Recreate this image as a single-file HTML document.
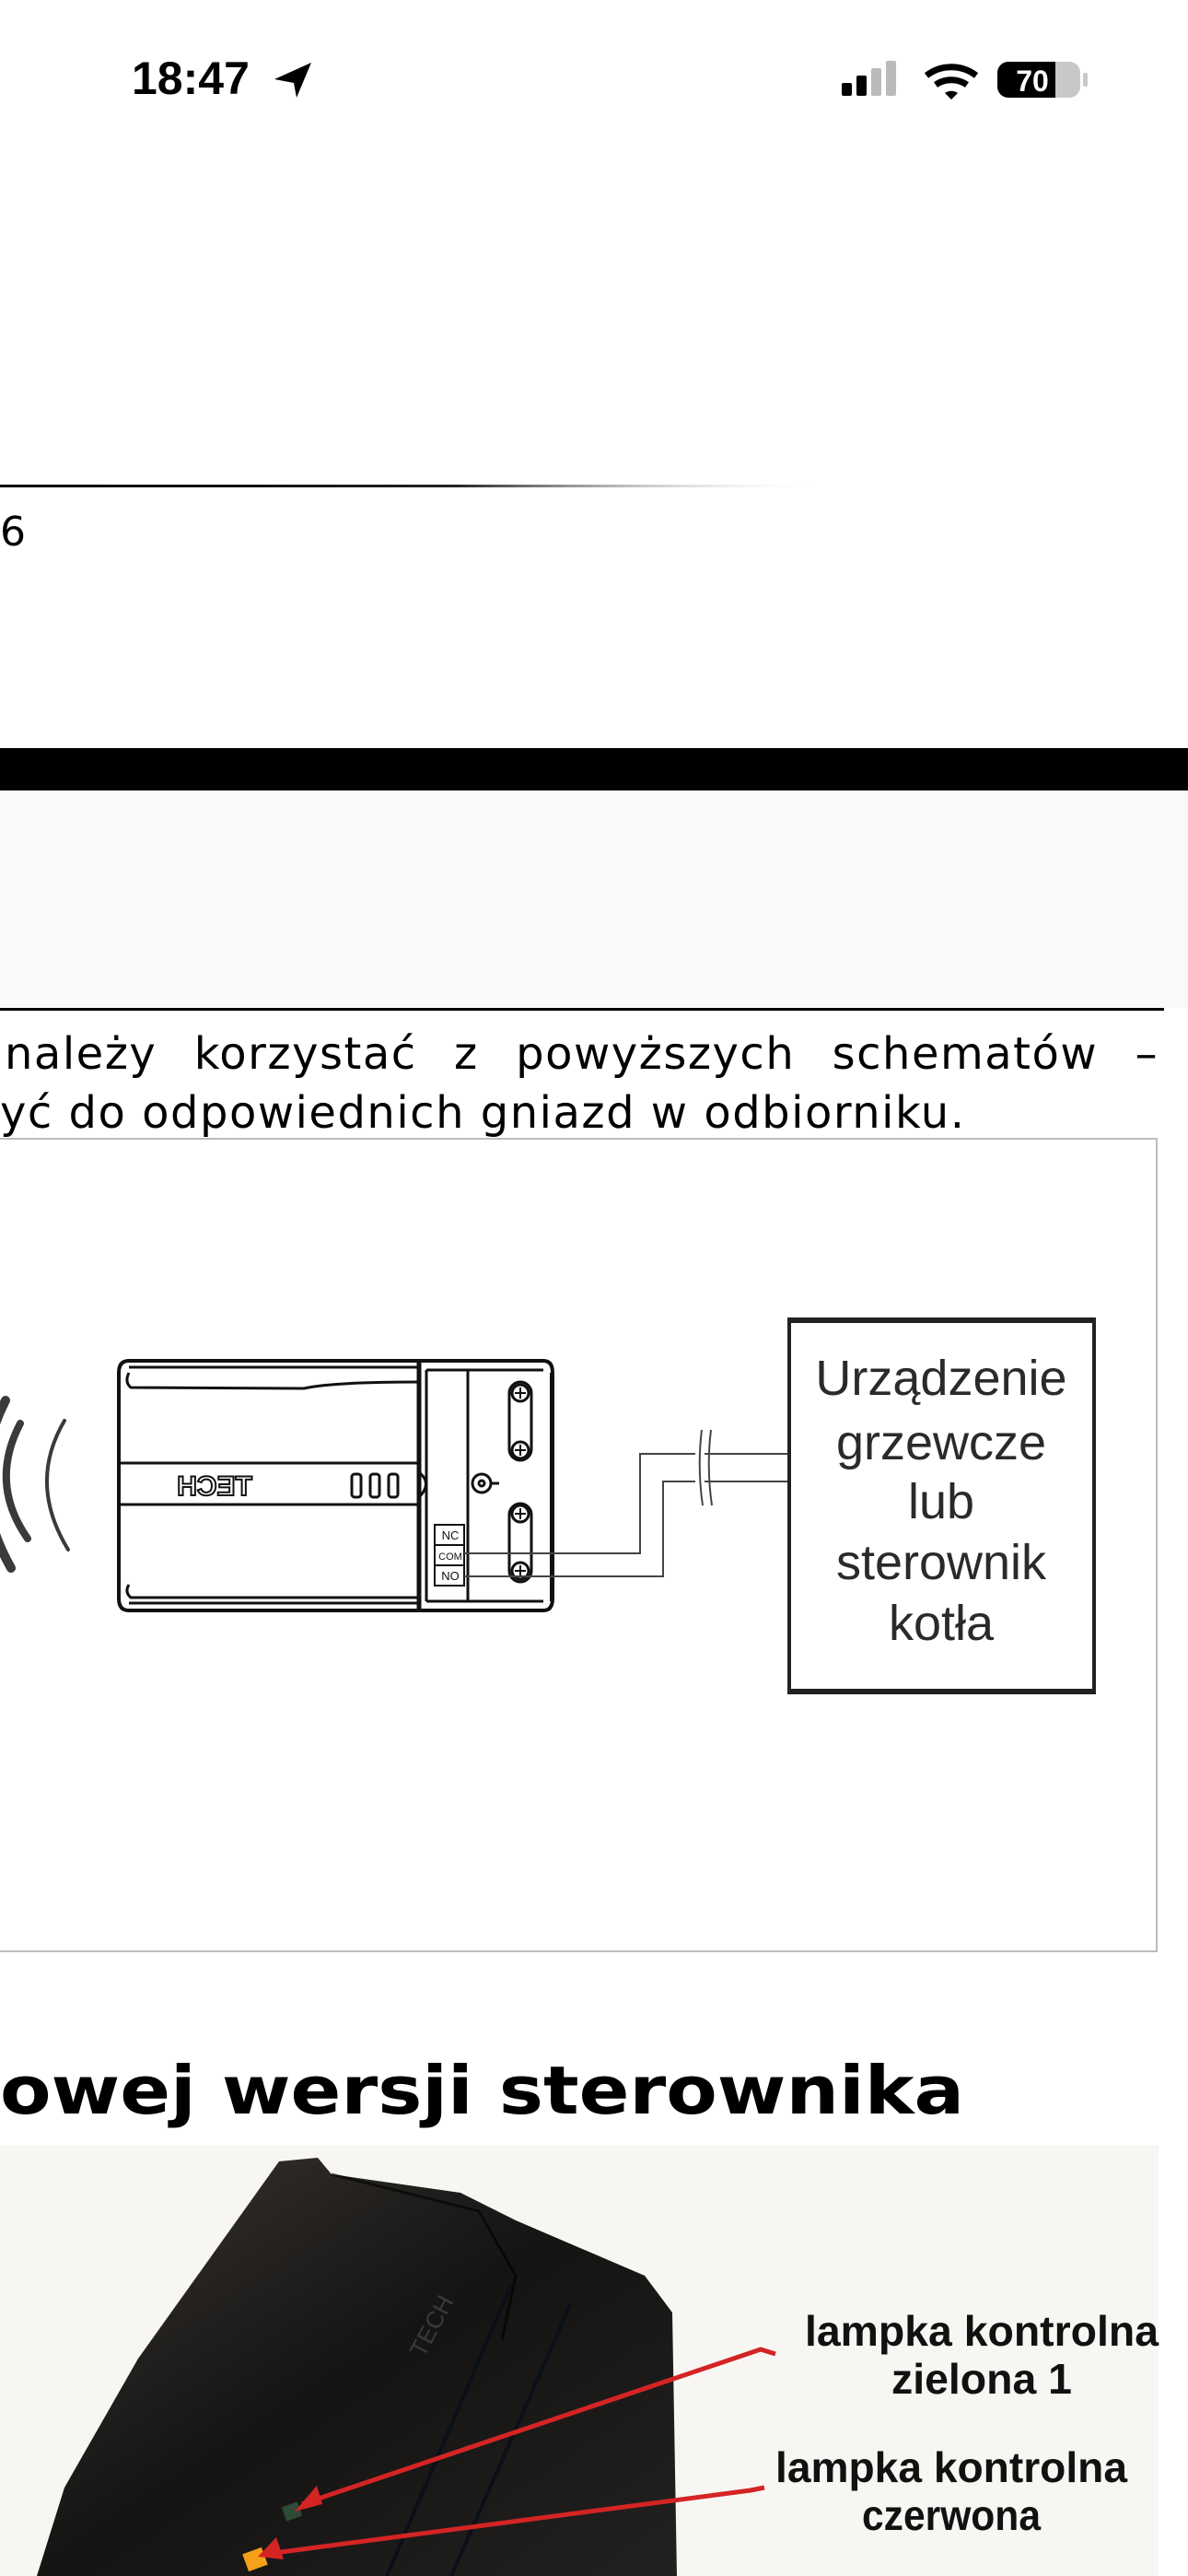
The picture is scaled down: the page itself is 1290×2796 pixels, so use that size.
<!DOCTYPE html>
<html><head><meta charset="utf-8"><style>
html,body{margin:0;padding:0;background:#fff;}
body{width:1290px;height:2796px;overflow:hidden;position:relative;}
svg{position:absolute;left:0;top:0;}
.p{position:absolute;left:5px;width:1253px;font-family:"DejaVu Sans",sans-serif;font-size:48px;letter-spacing:1.5px;line-height:64px;color:#000;text-align:justify;text-align-last:justify;white-space:nowrap;}
</style></head><body>
<svg width="1290" height="2796" viewBox="0 0 1290 2796" xmlns="http://www.w3.org/2000/svg">
<defs>
<linearGradient id="fade" x1="0" x2="1" y1="0" y2="0">
<stop offset="0" stop-color="#000"/><stop offset="0.55" stop-color="#222"/><stop offset="1" stop-color="#fff" stop-opacity="0"/>
</linearGradient>
<linearGradient id="dev" x1="0" x2="1" y1="0" y2="1">
<stop offset="0" stop-color="#3a3632"/><stop offset="0.5" stop-color="#151413"/><stop offset="1" stop-color="#23211f"/>
</linearGradient>
</defs>
<text x="143" y="102" font-family="Liberation Sans, sans-serif" font-size="50" font-weight="bold" fill="#000">18:47</text>
<path d="M298 86 L338 68 L322 106 L319 90 Z" fill="#000"/>
<rect x="914" y="90" width="11" height="14" rx="2" fill="#000"/>
<rect x="930" y="82" width="11" height="22" rx="2" fill="#000"/>
<rect x="946" y="74" width="11" height="30" rx="2" fill="#bbb"/>
<rect x="962" y="66" width="11" height="38" rx="2" fill="#bbb"/>
<path d="M1006 82 A44 44 0 0 1 1060 82" stroke="#000" stroke-width="7" fill="none"/>
<path d="M1016 92 A30 30 0 0 1 1050 92" stroke="#000" stroke-width="7" fill="none"/>
<path d="M1026 101 L1033 108 L1040 101 A12 12 0 0 0 1026 101Z" fill="#000"/>
<rect x="1083" y="67" width="90" height="39" rx="12" fill="#c8c8c8"/>
<path d="M1095 67 H1146 V106 H1095 A12 12 0 0 1 1083 94 V79 A12 12 0 0 1 1095 67Z" fill="#000"/>
<rect x="1176" y="79" width="5" height="15" rx="2" fill="#c8c8c8"/>
<text x="1121" y="99" text-anchor="middle" font-family="Liberation Sans, sans-serif" font-size="32" font-weight="bold" fill="#fff">70</text>

<rect x="0" y="526" width="900" height="3" fill="url(#fade)"/>
<text x="0" y="592" font-family="DejaVu Sans, sans-serif" font-size="44" fill="#000">6</text>

<rect x="0" y="812" width="1290" height="46" fill="#000"/>
<rect x="0" y="858" width="1290" height="236" fill="#f9f9f9"/>
<rect x="0" y="1094" width="1264" height="3" fill="#000"/>

<rect x="-2" y="1236" width="1258" height="882" fill="#fff" stroke="#bdbdbd" stroke-width="2"/>

<g fill="none" stroke="#3a3a3a" stroke-linecap="round">
<path d="M6 1520 Q-40 1610 12 1702" stroke-width="10"/>
<path d="M22 1545 Q-12 1610 30 1670" stroke-width="8"/>
<path d="M70 1542 Q30 1610 74 1682" stroke-width="4"/>
</g>

<g fill="none" stroke="#111" stroke-width="3">
<path d="M140 1477 H590 Q600 1477 600 1490 V1735 Q600 1748 590 1748 H140 Q129 1748 129 1735 V1490 Q129 1477 140 1477Z" stroke-width="4"/>
<path d="M140 1490 Q135 1500 142 1506 L330 1507 Q360 1500 455 1500"/>
<path d="M140 1484 H455"/>
<path d="M140 1740 H455"/>
<path d="M140 1720 Q135 1728 142 1734 H455"/>
<path d="M129 1588 H455 M129 1633 H455"/>
<path d="M455 1477 V1748" stroke-width="5"/>
<path d="M463 1487 V1738"/>
<path d="M508 1487 V1738"/>
<path d="M463 1487 H590 M463 1738 H590"/>
<path d="M598 1490 V1738" stroke-width="2"/>
<rect x="553" y="1500" width="24" height="85" rx="12"/>
<rect x="553" y="1632" width="24" height="85" rx="12"/>
<circle cx="523" cy="1610" r="10"/><circle cx="523" cy="1610" r="3"/>
<path d="M533 1610 H542"/>
<rect x="382" y="1600" width="10" height="25" rx="3"/>
<rect x="402" y="1600" width="10" height="25" rx="3"/>
<rect x="422" y="1600" width="10" height="25" rx="3"/>
<path d="M455 1598 Q470 1610 455 1625"/>
<rect x="472" y="1655" width="32" height="66" stroke-width="2"/>
<path d="M472 1677 H504 M472 1699 H504" stroke-width="2"/>
</g>
<g fill="#fff" stroke="#111" stroke-width="3">
<circle cx="565" cy="1512" r="9"/><circle cx="565" cy="1574" r="9"/>
<circle cx="565" cy="1643" r="9"/><circle cx="565" cy="1705" r="9"/>
</g>
<g stroke="#111" stroke-width="2">
<path d="M559 1512 H571 M565 1506 V1518 M559 1574 H571 M565 1568 V1580 M559 1643 H571 M565 1637 V1649 M559 1705 H571 M565 1699 V1711"/>
</g>
<text x="233" y="1623" text-anchor="middle" font-family="Liberation Sans, sans-serif" font-size="30" font-weight="bold" fill="none" stroke="#111" stroke-width="2" transform="translate(466 0) scale(-1 1)">TECH</text>
<g font-family="Liberation Sans, sans-serif" font-size="13" fill="#111" text-anchor="middle">
<text x="489" y="1671">NC</text><text x="489" y="1693" font-size="11">COM</text><text x="489" y="1715">NO</text>
</g>
<g fill="none" stroke="#444" stroke-width="2">
<path d="M504 1686 H695 V1578 H855"/>
<path d="M504 1711 H720 V1608 H855"/>
</g>
<rect x="755" y="1570" width="10" height="50" fill="#fff"/>
<path d="M762 1552 Q757 1592 763 1634 M772 1552 Q767 1592 773 1634" stroke="#444" stroke-width="2" fill="none"/>

<rect x="857" y="1434" width="331" height="402" fill="#fff" stroke="#222" stroke-width="4"/>
<path d="M855 1433 H1190 M855 1836 H1190" stroke="#222" stroke-width="6"/>
<g font-family="Liberation Sans, sans-serif" font-size="54" fill="#2a2a2a" text-anchor="middle">
<text x="1022" y="1514">Urządzenie</text>
<text x="1022" y="1584">grzewcze</text>
<text x="1022" y="1648">lub</text>
<text x="1022" y="1714">sterownik</text>
<text x="1022" y="1780">kotła</text>
</g>

<text x="0" y="2294" font-family="DejaVu Sans, sans-serif" font-size="72" font-weight="bold" fill="#000" textLength="1047" lengthAdjust="spacingAndGlyphs">owej wersji sterownika</text>

<rect x="0" y="2328" width="1258" height="468" fill="#f8f6f3"/>
<path d="M303 2346 L345 2342 L360 2360 L500 2380 L560 2410 L700 2470 L730 2510 L735 2796 L40 2796 L70 2700 L150 2560 Z" fill="url(#dev)"/>
<path d="M360 2360 L520 2400 L560 2470 L545 2540" stroke="#000" stroke-width="3" fill="none" opacity=".6"/>
<path d="M555 2480 L420 2796" stroke="#0b0f1a" stroke-width="4" fill="none"/>
<path d="M620 2500 L490 2796" stroke="#0b0f1a" stroke-width="4" fill="none"/>
<text x="460" y="2560" font-family="Liberation Sans, sans-serif" font-size="26" fill="#3a3a3a" transform="rotate(-62 460 2560)">TECH</text>
<rect x="308" y="2718" width="18" height="16" fill="#2f4a35" transform="rotate(-20 317 2726)"/>
<rect x="266" y="2768" width="22" height="20" fill="#f5a21a" transform="rotate(-20 277 2778)"/>
<g stroke="#d42424" stroke-width="5" fill="none">
<path d="M842 2555 L826 2550 L328 2718"/>
<path d="M830 2700 L815 2703 L290 2772"/>
</g>
<path d="M320 2726 L344 2698 L350 2718Z" fill="#d42424"/>
<path d="M280 2775 L300 2754 L308 2778Z" fill="#d42424"/>
<g font-family="Liberation Sans, sans-serif" font-size="46" font-weight="bold" fill="#111" text-anchor="middle">
<text x="1066" y="2546" textLength="384" lengthAdjust="spacingAndGlyphs">lampka kontrolna</text>
<text x="1066" y="2598" textLength="196" lengthAdjust="spacingAndGlyphs">zielona 1</text>
<text x="1033" y="2694" textLength="382" lengthAdjust="spacingAndGlyphs">lampka kontrolna</text>
<text x="1033" y="2746" textLength="194" lengthAdjust="spacingAndGlyphs">czerwona</text>
</g>
</svg>
<div class="p" style="top:1112px;">należy korzystać z powyższych schematów –</div>
<div class="p" style="top:1176px;left:0;text-align:left;text-align-last:left;">yć do odpowiednich gniazd w odbiorniku.</div>
</body></html>
